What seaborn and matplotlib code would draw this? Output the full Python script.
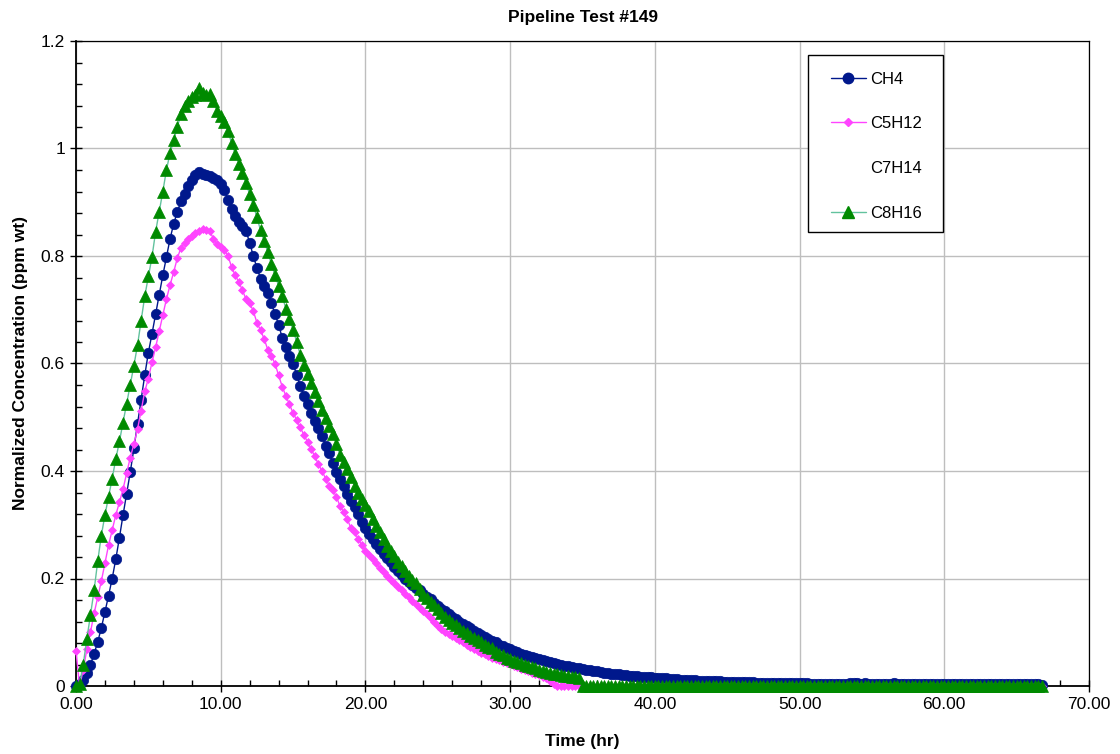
import numpy as np
import matplotlib
matplotlib.use("Agg")
import matplotlib.pyplot as plt
from matplotlib.lines import Line2D
from matplotlib.patches import Rectangle
from matplotlib.ticker import MultipleLocator, FormatStrFormatter, FuncFormatter
import seaborn as sns

# Samples logged every 15 minutes
SAMPLE_INTERVAL_HR = 0.25

series_names = ["CH4", "C5H12", "C7H14", "C8H16"]

# Normalized concentration (ppm wt), one row per 5 hours of sampling
ch4 = [
    0.000, 0.004, 0.012, 0.024, 0.040, 0.060, 0.082, 0.108, 0.138, 0.168, 0.200, 0.236, 0.276, 0.318, 0.358, 0.398, 0.442, 0.488, 0.533, 0.578,
    0.620, 0.655, 0.692, 0.728, 0.764, 0.798, 0.832, 0.860, 0.882, 0.902, 0.916, 0.930, 0.942, 0.951, 0.956, 0.953, 0.950, 0.948, 0.945, 0.941,
    0.934, 0.922, 0.905, 0.888, 0.874, 0.864, 0.856, 0.846, 0.825, 0.800, 0.778, 0.758, 0.744, 0.732, 0.712, 0.692, 0.672, 0.648, 0.630, 0.614,
    0.600, 0.578, 0.558, 0.540, 0.524, 0.508, 0.493, 0.480, 0.465, 0.447, 0.433, 0.415, 0.398, 0.385, 0.372, 0.358, 0.345, 0.333, 0.320, 0.306,
    0.294, 0.283, 0.273, 0.264, 0.255, 0.246, 0.238, 0.230, 0.222, 0.214, 0.207, 0.200, 0.194, 0.188, 0.183, 0.178, 0.172, 0.166, 0.161, 0.155,
    0.149, 0.144, 0.139, 0.134, 0.129, 0.125, 0.120, 0.116, 0.112, 0.107, 0.103, 0.099, 0.095, 0.091, 0.088, 0.084, 0.081, 0.077, 0.074, 0.071,
    0.068, 0.065, 0.063, 0.060, 0.058, 0.056, 0.054, 0.052, 0.050, 0.048, 0.046, 0.044, 0.043, 0.041, 0.040, 0.038, 0.037, 0.035, 0.034, 0.033,
    0.031, 0.030, 0.029, 0.028, 0.027, 0.026, 0.025, 0.024, 0.023, 0.022, 0.022, 0.021, 0.020, 0.019, 0.019, 0.018, 0.017, 0.017, 0.016, 0.016,
    0.015, 0.015, 0.014, 0.014, 0.013, 0.013, 0.013, 0.012, 0.012, 0.011, 0.011, 0.011, 0.010, 0.010, 0.010, 0.009, 0.009, 0.009, 0.009, 0.008,
    0.008, 0.008, 0.008, 0.007, 0.007, 0.007, 0.007, 0.007, 0.006, 0.006, 0.006, 0.006, 0.006, 0.006, 0.005, 0.005, 0.005, 0.005, 0.005, 0.005,
    0.005, 0.005, 0.005, 0.004, 0.004, 0.004, 0.004, 0.004, 0.004, 0.004, 0.004, 0.004, 0.004, 0.004, 0.005, 0.006, 0.005, 0.004, 0.005, 0.004,
    0.004, 0.004, 0.004, 0.004, 0.004, 0.004, 0.006, 0.004, 0.004, 0.003, 0.003, 0.003, 0.003, 0.003, 0.003, 0.003, 0.003, 0.003, 0.003, 0.003,
    0.003, 0.003, 0.003, 0.003, 0.003, 0.003, 0.003, 0.003, 0.003, 0.003, 0.003, 0.003, 0.003, 0.003, 0.003, 0.003, 0.003, 0.003, 0.003, 0.003,
    0.003, 0.003, 0.003, 0.003, 0.003, 0.003, 0.003, 0.002,
]

c5h12 = [
    0.065, 0.000, 0.030, 0.068, 0.100, 0.135, 0.165, 0.195, 0.228, 0.262, 0.290, 0.318, 0.342, 0.366, 0.396, 0.425, 0.450, 0.478, 0.512, 0.548,
    0.572, 0.602, 0.630, 0.660, 0.690, 0.720, 0.746, 0.770, 0.796, 0.815, 0.825, 0.832, 0.837, 0.843, 0.847, 0.850, 0.849, 0.846, 0.832, 0.822,
    0.817, 0.812, 0.800, 0.780, 0.764, 0.752, 0.736, 0.720, 0.712, 0.698, 0.676, 0.662, 0.646, 0.626, 0.614, 0.600, 0.578, 0.557, 0.540, 0.524,
    0.508, 0.495, 0.481, 0.467, 0.454, 0.441, 0.427, 0.413, 0.400, 0.386, 0.373, 0.364, 0.352, 0.334, 0.324, 0.310, 0.294, 0.286, 0.274, 0.262,
    0.252, 0.244, 0.236, 0.228, 0.219, 0.212, 0.205, 0.198, 0.191, 0.185, 0.179, 0.172, 0.166, 0.159, 0.152, 0.146, 0.140, 0.134, 0.127, 0.119,
    0.112, 0.106, 0.101, 0.097, 0.093, 0.089, 0.085, 0.081, 0.077, 0.073, 0.069, 0.065, 0.062, 0.059, 0.056, 0.053, 0.050, 0.048, 0.045, 0.043,
    0.041, 0.038, 0.035, 0.032, 0.030, 0.028, 0.025, 0.022, 0.020, 0.017, 0.014, 0.010, 0.004, 0.000, 0.000, 0.000, 0.000, 0.000, 0.000, 0.000,
    0.000, 0.000, 0.000, 0.000, 0.000, 0.000, 0.000, 0.000, 0.000, 0.000, 0.000, 0.000, 0.000, 0.000, 0.000, 0.000, 0.000, 0.000, 0.000, 0.000,
    0.000, 0.000, 0.000, 0.000, 0.000, 0.000, 0.000, 0.000, 0.000, 0.000, 0.000, 0.000, 0.000, 0.000, 0.000, 0.000, 0.000, 0.000, 0.000, 0.000,
    0.000, 0.000, 0.000, 0.000, 0.000, 0.000, 0.000, 0.000, 0.000, 0.000, 0.000, 0.000, 0.000, 0.000, 0.000, 0.000, 0.000, 0.000, 0.000, 0.000,
    0.000, 0.000, 0.000, 0.000, 0.000, 0.000, 0.000, 0.000, 0.000, 0.000, 0.000, 0.000, 0.000, 0.000, 0.000, 0.000, 0.000, 0.000, 0.000, 0.000,
    0.000, 0.000, 0.000, 0.000, 0.000, 0.000, 0.000, 0.000, 0.000, 0.000, 0.000, 0.000, 0.000, 0.000, 0.000, 0.000, 0.000, 0.000, 0.000, 0.000,
    0.000, 0.000, 0.000, 0.000, 0.000, 0.000, 0.000, 0.000, 0.000, 0.000, 0.000, 0.000, 0.000, 0.000, 0.000, 0.000, 0.000, 0.000, 0.000, 0.000,
    0.000, 0.000, 0.000, 0.000, 0.000, 0.000, 0.000, 0.000,
]

# No C7H14 readings were recorded in this test
c7h14 = []

c8h16 = [
    0.000, 0.004, 0.040, 0.088, 0.132, 0.178, 0.232, 0.280, 0.318, 0.352, 0.386, 0.422, 0.455, 0.490, 0.524, 0.560, 0.596, 0.634, 0.680, 0.725,
    0.762, 0.798, 0.845, 0.882, 0.920, 0.960, 0.992, 1.015, 1.040, 1.064, 1.080, 1.088, 1.095, 1.100, 1.112, 1.104, 1.100, 1.102, 1.088, 1.070,
    1.060, 1.050, 1.033, 1.010, 0.990, 0.972, 0.955, 0.935, 0.915, 0.895, 0.872, 0.848, 0.828, 0.808, 0.785, 0.764, 0.745, 0.726, 0.702, 0.682,
    0.663, 0.640, 0.616, 0.598, 0.580, 0.563, 0.547, 0.530, 0.514, 0.498, 0.484, 0.468, 0.450, 0.430, 0.416, 0.404, 0.388, 0.373, 0.360, 0.348,
    0.337, 0.325, 0.310, 0.298, 0.287, 0.274, 0.261, 0.251, 0.241, 0.231, 0.223, 0.214, 0.205, 0.198, 0.192, 0.180, 0.170, 0.163, 0.156, 0.150,
    0.143, 0.136, 0.129, 0.123, 0.118, 0.113, 0.108, 0.103, 0.098, 0.093, 0.089, 0.085, 0.081, 0.077, 0.073, 0.070, 0.064, 0.060, 0.057, 0.053,
    0.050, 0.047, 0.045, 0.042, 0.040, 0.038, 0.036, 0.034, 0.030, 0.028, 0.026, 0.025, 0.023, 0.022, 0.020, 0.019, 0.018, 0.017, 0.016, 0.015,
    0.000, 0.000, 0.000, 0.000, 0.000, 0.000, 0.000, 0.000, 0.000, 0.000, 0.000, 0.000, 0.000, 0.000, 0.000, 0.000, 0.000, 0.000, 0.000, 0.000,
    0.000, 0.000, 0.000, 0.000, 0.000, 0.000, 0.000, 0.000, 0.000, 0.000, 0.000, 0.000, 0.000, 0.000, 0.000, 0.000, 0.000, 0.000, 0.000, 0.000,
    0.000, 0.000, 0.000, 0.000, 0.000, 0.000, 0.000, 0.000, 0.000, 0.000, 0.000, 0.000, 0.000, 0.000, 0.000, 0.000, 0.000, 0.000, 0.000, 0.000,
    0.000, 0.000, 0.000, 0.000, 0.000, 0.000, 0.000, 0.000, 0.000, 0.000, 0.000, 0.000, 0.000, 0.000, 0.000, 0.000, 0.000, 0.000, 0.000, 0.000,
    0.000, 0.000, 0.000, 0.000, 0.000, 0.000, 0.000, 0.000, 0.000, 0.000, 0.000, 0.000, 0.000, 0.000, 0.000, 0.000, 0.000, 0.000, 0.000, 0.000,
    0.000, 0.000, 0.000, 0.000, 0.000, 0.000, 0.000, 0.000, 0.000, 0.000, 0.000, 0.000, 0.000, 0.000, 0.000, 0.000, 0.000, 0.000, 0.000, 0.000,
    0.000, 0.000, 0.000, 0.000, 0.000, 0.000, 0.000, 0.000,
]

time_hr = np.arange(len(ch4)) * SAMPLE_INTERVAL_HR

sns.set_style("white")
plt.rcParams["font.family"] = ["Liberation Sans", "DejaVu Sans"]
plt.rcParams["text.color"] = "black"
plt.rcParams["axes.labelcolor"] = "black"
plt.rcParams["xtick.color"] = "black"
plt.rcParams["ytick.color"] = "black"

NAVY = "#00188C"
PINK = "#FF44FF"
GREEN = "#008A00"
GREEN_LINE = "#62C29E"

fig = plt.figure(figsize=(11.2, 7.54), dpi=100)
ax = fig.add_axes([76 / 1120, 68 / 754, 1013 / 1120, 645 / 754])

common = dict(ax=ax, estimator=None, sort=False, linewidth=1.0, clip_on=False)
sns.lineplot(x=time_hr, y=ch4, color=NAVY, marker="o", markersize=7.5,
             markerfacecolor=NAVY, markeredgecolor=NAVY, markeredgewidth=0.5,
             zorder=3, **common)
sns.lineplot(x=time_hr, y=c5h12, color=PINK, marker="D", markersize=4.2,
             markerfacecolor=PINK, markeredgecolor=PINK, markeredgewidth=0.5,
             zorder=4, **common)
sns.lineplot(x=time_hr, y=c8h16, color=GREEN_LINE, marker="^", markersize=8.5,
             markerfacecolor=GREEN, markeredgecolor=GREEN, markeredgewidth=0.5,
             zorder=5, **common)

ax.set_xlim(0, 70)
ax.set_ylim(0, 1.2)
ax.xaxis.set_major_locator(MultipleLocator(10))
ax.xaxis.set_minor_locator(MultipleLocator(2))
ax.yaxis.set_major_locator(MultipleLocator(0.2))
ax.yaxis.set_minor_locator(MultipleLocator(0.04))
ax.xaxis.set_major_formatter(FormatStrFormatter("%.2f"))
ax.yaxis.set_major_formatter(FuncFormatter(lambda v, _: f"{round(v, 2):g}"))

ax.grid(which="major", color="#BEBEBE", linewidth=1.0)
ax.set_axisbelow(True)

for side in ["left", "bottom"]:
    ax.spines[side].set_color("black")
    ax.spines[side].set_linewidth(1.3)
for side in ["top", "right"]:
    ax.spines[side].set_color("black")
    ax.spines[side].set_linewidth(0.9)

ax.tick_params(which="major", direction="inout", length=8, width=1.0,
               colors="black", labelsize=12.5, bottom=True, left=True,
               top=False, right=False, pad=4)
ax.tick_params(which="minor", direction="in", length=4, width=1.0,
               colors="black", bottom=True, left=True, top=False, right=False)

ax.set_xlabel("Time (hr)", fontsize=12.5, fontweight="bold", labelpad=16)
ax.set_ylabel("Normalized Concentration (ppm wt)", fontsize=12.5,
              fontweight="bold", labelpad=9)
ax.set_title("Pipeline Test #149", fontsize=12.5, fontweight="bold", pad=14)

# Legend entries (C7H14 has no drawn line or marker)
handles = [
    Line2D([], [], color=NAVY, lw=1.0, marker="o", markersize=7.5,
           markerfacecolor=NAVY, markeredgecolor=NAVY),
    Line2D([], [], color=PINK, lw=1.0, marker="D", markersize=4.2,
           markerfacecolor=PINK, markeredgecolor=PINK),
    Line2D([], [], linestyle="None", marker="None"),
    Line2D([], [], color=GREEN_LINE, lw=1.0, marker="^", markersize=8.5,
           markerfacecolor=GREEN, markeredgecolor=GREEN),
]
leg = ax.legend(handles, series_names, loc="upper left",
                bbox_to_anchor=(0.7453, 0.9527), frameon=False,
                fontsize=12, borderpad=0, labelspacing=1.78,
                handlelength=2.1, handletextpad=0.25, borderaxespad=0)
leg.set_zorder(10)

# Legend box drawn as its own white frame
legend_box = Rectangle((0.7226, 0.7039), 0.1333, 0.2744, transform=ax.transAxes,
                       facecolor="white", edgecolor="black", linewidth=1.0,
                       zorder=9, clip_on=False)
ax.add_patch(legend_box)

fig.savefig("out.png", dpi=100)
